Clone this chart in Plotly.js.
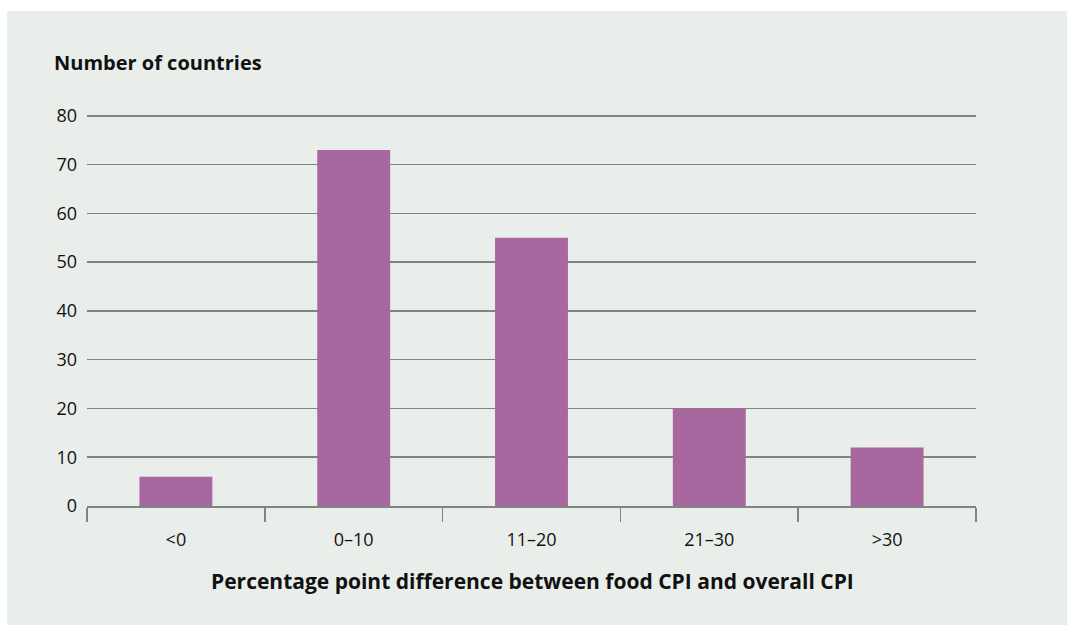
<!DOCTYPE html>
<html>
<head>
<meta charset="utf-8">
<script src="https://cdn.plot.ly/plotly-3.0.1.min.js"></script>
<style>
html,body{margin:0;padding:0;background:#e9eeeb;overflow:hidden;}
#chart{width:1067px;height:625px;}
</style>
</head>
<body>
<div id="chart"></div>
<script>
const categories = ["<0", "0–10", "11–20", "21–30", ">30"];
const counts = [6, 73, 55, 20, 12];
const yTicks = [0, 10, 20, 30, 40, 50, 60, 70, 80];
const yTitle = "Number of countries";
const xTitle = "Percentage point difference between food CPI and overall CPI";

const FONT = "Open Sans, Noto Sans, sans-serif";
const gridColor = "#7f8581";
const textColor = "#111111";
const panelColor = "#e9eeeb";

const trace = {
  type: "bar",
  x: categories,
  y: counts,
  marker: {color: "#a8679f", line: {width: 0}},
  hoverinfo: "x+y"
};

// plot area: x 87..976, y 111..506 (range 0..81)
const PW = 889, PH = 395, PB = 506;
const px = v => (v - 87) / PW;
const py = v => (PB - v) / PH;

const layout = {
  width: 1067,
  height: 625,
  margin: {l: 87, r: 91, t: 111, b: 119, pad: 0},
  paper_bgcolor: panelColor,
  plot_bgcolor: "rgba(0,0,0,0)",
  bargap: 0.59,
  showlegend: false,
  font: {family: FONT, size: 18, color: textColor},
  xaxis: {
    type: "category",
    tickson: "boundaries",
    ticks: "outside",
    ticklen: 14,
    tickwidth: 1.5,
    tickcolor: gridColor,
    showline: true,
    linecolor: gridColor,
    linewidth: 1.5,
    showgrid: false,
    zeroline: false,
    ticklabelstandoff: 17,
    tickfont: {family: FONT, size: 18, color: textColor}
  },
  yaxis: {
    range: [0, 81],
    tickvals: yTicks,
    ticktext: yTicks.map(String),
    showgrid: true,
    gridcolor: gridColor,
    gridwidth: 1.5,
    zeroline: false,
    showline: false,
    ticks: "",
    ticklabelstandoff: 9,
    tickfont: {family: FONT, size: 18, color: textColor}
  },
  shapes: [
    {type: "rect", xref: "paper", yref: "paper", layer: "below",
     x0: px(-5), x1: px(1075), y0: py(11), y1: py(-5),
     fillcolor: "#ffffff", line: {width: 0}},
    {type: "rect", xref: "paper", yref: "paper", layer: "below",
     x0: px(-5), x1: px(7), y0: py(630), y1: py(-5),
     fillcolor: "#ffffff", line: {width: 0}}
  ],
  annotations: [
    {
      text: "<b>" + yTitle + "</b>", xref: "paper", yref: "paper",
      x: px(52), y: py(62),
      xanchor: "left", yanchor: "middle", showarrow: false,
      font: {family: FONT, size: 20, color: textColor}
    },
    {
      text: "<b>" + xTitle + "</b>", xref: "paper", yref: "paper",
      x: px(532), y: py(581),
      xanchor: "center", yanchor: "middle", showarrow: false,
      font: {family: FONT, size: 21, color: textColor}
    }
  ]
};

Plotly.newPlot("chart", [trace], layout, {displayModeBar: false, staticPlot: true});
</script>
</body>
</html>
